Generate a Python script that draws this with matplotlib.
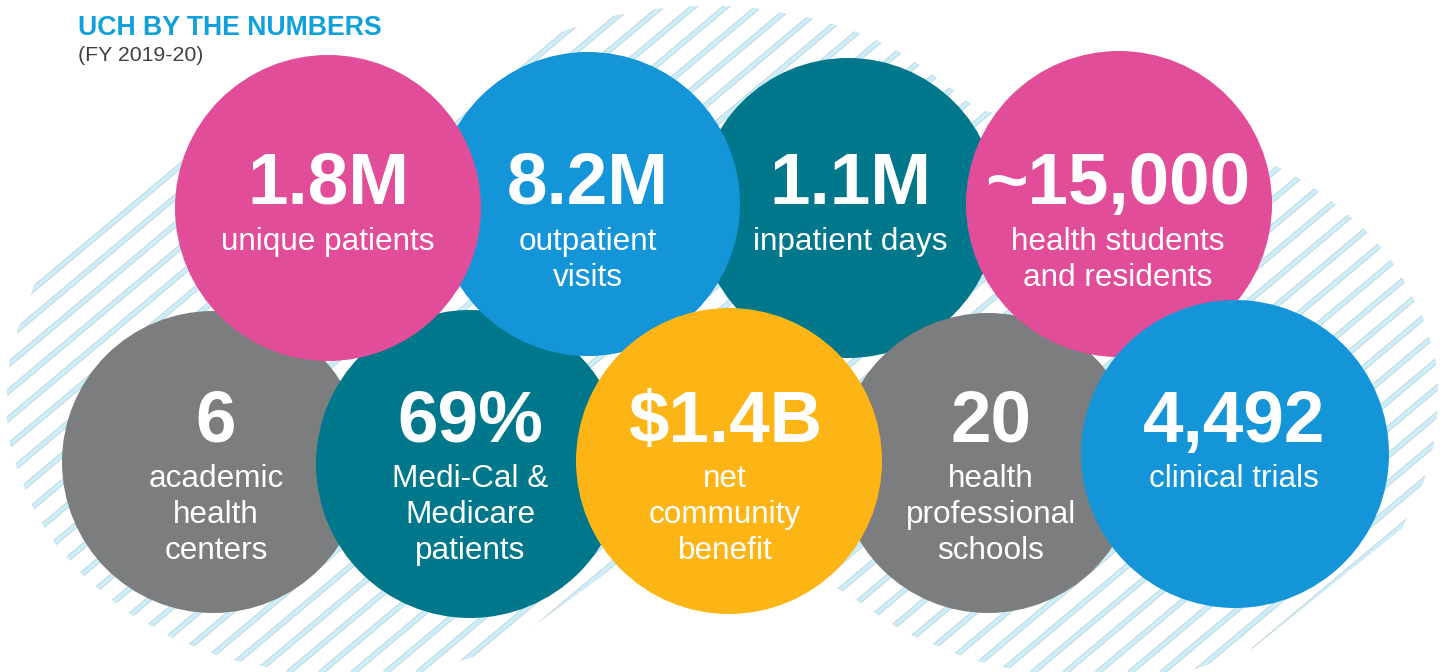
"""
UCH by the numbers - bubble infographic with striped backdrop
"""

import numpy as np
import matplotlib
matplotlib.use("Agg")
import matplotlib.pyplot as plt
from matplotlib.patches import Circle, Polygon

# Data
stat_values = ["1.8M", "8.2M", "1.1M", "~15,000",
               "6", "69%", "$1.4B", "20", "4,492"]
stat_labels = [["unique patients"],
               ["outpatient", "visits"],
               ["inpatient days"],
               ["health students", "and residents"],
               ["academic", "health", "centers"],
               ["Medi-Cal &", "Medicare", "patients"],
               ["net", "community", "benefit"],
               ["health", "professional", "schools"],
               ["clinical trials"]]
title = "UCH BY THE NUMBERS"
subtitle = "(FY 2019-20)"

# Layout (pixel coords, y down)
centers = [(328, 208), (588, 204), (848, 208), (1119, 204),
           (213, 462), (470, 464), (729, 461), (988, 463), (1235, 454)]
text_x = [328, 588, 850, 1118, 216, 470, 725, 991, 1234]
radii = [153, 152, 150, 153, 151, 154, 153, 150, 154]
rows = [0, 0, 0, 0, 1, 1, 1, 1, 1]
circle_colors = ["#e24d9a", "#1395d8", "#00778a", "#e24d9a",
                 "#7c7d7f", "#00778a", "#fdb515", "#7c7d7f", "#1395d8"]
draw_order = [2, 4, 7, 5, 1, 0, 3, 6, 8]
number_baseline = [204, 442]
label_baseline = [250, 487]
line_step = 36

# outline of the hatched backdrop
backdrop = [(38, 276), (182, 153), (300, 135), (440, 118), (460, 106), (558, 33),
            (613, 16), (657, 9), (696, 6), (728, 6), (759, 9), (787, 14), (815, 19),
            (838, 26), (862, 34), (884, 44), (906, 56), (925, 69), (941, 81), (961, 96),
            (977, 109), (1040, 125), (1150, 140), (1250, 155), (1270, 163), (1293, 175),
            (1312, 187), (1330, 200), (1347, 214), (1363, 228), (1378, 244), (1392, 262),
            (1403, 279), (1413, 298), (1423, 318), (1430, 340), (1436, 363), (1438, 388),
            (1437, 417), (1433, 447), (1423, 483), (1402, 528), (1253, 648), (1197, 668),
            (1150, 690), (1040, 690), (1019, 670), (994, 665), (967, 658), (945, 649),
            (922, 640), (901, 630), (883, 618), (864, 605), (845, 592), (830, 585),
            (728, 592), (650, 576), (614, 567), (506, 646), (450, 664), (420, 690),
            (290, 690), (274, 668), (247, 663), (222, 657), (199, 648), (176, 640),
            (156, 628), (135, 617), (116, 603), (100, 590), (83, 575), (70, 560),
            (55, 543), (43, 525), (33, 507), (23, 483), (15, 462), (10, 443), (7, 417),
            (7, 387), (10, 360), (20, 323)]

W, H = 1450, 672
font = "Liberation Sans"

fig = plt.figure(figsize=(W / 100, H / 100), dpi=100)
ax = fig.add_axes([0, 0, 1, 1])
ax.set_xlim(0, W)
ax.set_ylim(H, 0)
ax.axis("off")

# Stripes clipped to backdrop
region = Polygon(backdrop, closed=True, fc="none", ec="none")
ax.add_patch(region)
ang = np.deg2rad(40)
s, c = np.sin(ang), np.cos(ang)
xs = np.array([-100, W + 100])
for k in np.arange(243 - 20.8 * 20, 1700, 20.8):
    ys = (k - xs * s) / c
    for col, lw in [("#bccbcf", 4.0), ("#cbeffa", 3.0)]:
        ln, = ax.plot(xs, ys, color=col, lw=lw, solid_capstyle="butt", zorder=1)
        ln.set_clip_path(region)

# Bubbles
for z, i in enumerate(draw_order):
    ax.add_patch(Circle(centers[i], radii[i], fc=circle_colors[i], ec="none", zorder=2 + z))
    tx = text_x[i]
    r = rows[i]
    ax.text(tx, number_baseline[r], stat_values[i], ha="center", va="baseline",
            color="white", fontsize=52.5, fontweight="bold", family=font, zorder=2 + z)
    for j, line in enumerate(stat_labels[i]):
        ax.text(tx, label_baseline[r] + j * line_step, line, ha="center", va="baseline",
                color="white", fontsize=22.7, family=font, zorder=2 + z)

# Titles
ax.text(78, 35, title, ha="left", va="baseline", color="#10a0dc",
        fontsize=19.2, fontweight="bold", family=font, zorder=20)
ax.text(78, 61, subtitle, ha="left", va="baseline", color="#404040",
        fontsize=15.3, family=font, zorder=20)

fig.savefig("out.png", dpi=100)
plt.close(fig)
